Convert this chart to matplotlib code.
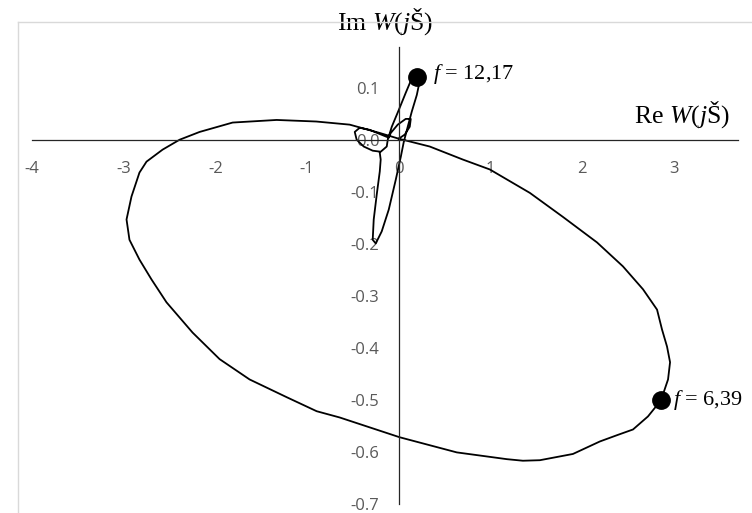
import matplotlib
matplotlib.use("Agg")
import matplotlib.pyplot as plt
from matplotlib.lines import Line2D
import numpy as np

# Nyquist curve W(jw)
# big loop, starting near the origin and going clockwise
loop_re = [0.000, 0.338, 0.699, 0.993, 1.430, 1.790, 2.162, 2.445, 2.664, 2.817,
           2.871, 2.926, 2.959, 2.937, 2.860, 2.718, 2.555, 2.380, 2.194, 1.900,
           1.539, 1.354, 1.179, 0.633, 0.011, -0.644, -0.895, -1.223, -1.627, -1.954,
           -2.249, -2.533, -2.697, -2.828, -2.937, -2.969, -2.915, -2.828, -2.751, -2.576,
           -2.391, -2.172, -1.812, -1.332, -0.900, -0.535, -0.207]
loop_im = [0.002, -0.013, -0.038, -0.057, -0.102, -0.148, -0.197, -0.243, -0.287, -0.326,
           -0.364, -0.397, -0.427, -0.460, -0.500, -0.531, -0.556, -0.567, -0.579, -0.603,
           -0.615, -0.616, -0.613, -0.600, -0.571, -0.533, -0.521, -0.494, -0.460, -0.421,
           -0.370, -0.312, -0.268, -0.230, -0.192, -0.153, -0.109, -0.063, -0.042, -0.019,
           0.000, 0.015, 0.033, 0.038, 0.035, 0.029, 0.013]

# small loops and spikes around the origin
knot_re = [0.000, 0.066, 0.120, 0.131, 0.076, -0.011, -0.087, -0.109, -0.207, -0.317,
           -0.426, -0.480, -0.459, -0.382, -0.284, -0.197, -0.131, -0.120, -0.076, 0.000,
           0.076, 0.131, 0.197, 0.229, 0.197, 0.142, 0.098, 0.055, 0.022, -0.033,
           -0.109, -0.186, -0.251, -0.284, -0.273, -0.240, -0.207, -0.197, -0.207]
knot_im = [0.002, 0.010, 0.025, 0.040, 0.040, 0.029, 0.013, 0.004, 0.011, 0.019,
           0.023, 0.015, 0.000, -0.013, -0.021, -0.023, -0.013, 0.000, 0.025, 0.057,
           0.090, 0.113, 0.123, 0.113, 0.086, 0.054, 0.025, -0.004, -0.033, -0.077,
           -0.134, -0.176, -0.199, -0.192, -0.153, -0.105, -0.061, -0.038, -0.025]

# marked resonance points
mark_re = [2.860, 0.197]
mark_im = [-0.500, 0.121]
mark_f = ["6,39", "12,17"]

x_ticks = [-4, -3, -2, -1, 0, 1, 2, 3]
y_ticks = [0.1, 0.0, -0.1, -0.2, -0.3, -0.4, -0.5, -0.6, -0.7]

plt.rcParams['axes.unicode_minus'] = False
plt.rcParams['mathtext.fontset'] = 'custom'
plt.rcParams['mathtext.rm'] = 'Liberation Serif'
plt.rcParams['mathtext.it'] = 'Liberation Serif:italic'

W, H = 752, 513
fig = plt.figure(figsize=(W / 100, H / 100), dpi=100)
ax = fig.add_axes([32 / W, (H - 504.5) / H, (738 - 32) / W, (504.5 - 47) / H])

re_w = np.concatenate([loop_re, knot_re])
im_w = np.concatenate([loop_im, knot_im])
ax.plot(re_w, im_w, color='black', lw=1.3, solid_joinstyle='round')
ax.plot(mark_re, mark_im, 'o', color='black', ms=12.5, zorder=5)

ax.set_xlim(-4, 3.70)
ax.set_ylim(-0.7, 0.178)

# axes cross at zero, Excel style
ax.spines['left'].set_position('zero')
ax.spines['bottom'].set_position('zero')
ax.spines['top'].set_visible(False)
ax.spines['right'].set_visible(False)
for s in ('left', 'bottom'):
    ax.spines[s].set_color('#262626')
    ax.spines[s].set_linewidth(0.9)

ax.set_xticks(x_ticks)
ax.set_xticklabels([str(v) for v in x_ticks])
ax.set_yticks(y_ticks)
ax.set_yticklabels(['%.1f' % v for v in y_ticks])
ax.tick_params(axis='x', length=0, pad=15, labelsize=12, labelcolor='#595959')
ax.tick_params(axis='y', length=0, pad=14, labelsize=12, labelcolor='#595959')
for lab in ax.get_xticklabels() + ax.get_yticklabels():
    lab.set_family('Open Sans')
ax.patch.set_visible(False)

# axis names
ax.text(-0.15, 0.226, 'Im $W(j$Š$)$', fontsize=18.5, family='Liberation Serif',
        ha='center', va='center', clip_on=False)
ax.text(3.09, 0.048, 'Re $W(j$Š$)$', fontsize=18.5, family='Liberation Serif',
        ha='center', va='center', clip_on=False)

for x, y, f, off in zip(mark_re, mark_im, mark_f, [(9, 0), (12, 2)]):
    ax.annotate('$f$ = ' + f, (x, y), xytext=off, textcoords='offset points',
                fontsize=16, family='Liberation Serif', ha='left', va='center')

# chart area border (top and left edges visible)
fig.add_artist(Line2D([18 / W, 1], [1 - 22 / H, 1 - 22 / H], color='#d9d9d9', lw=1))
fig.add_artist(Line2D([18 / W, 18 / W], [0, 1 - 22 / H], color='#d9d9d9', lw=1))

fig.savefig('out.png', dpi=100)
